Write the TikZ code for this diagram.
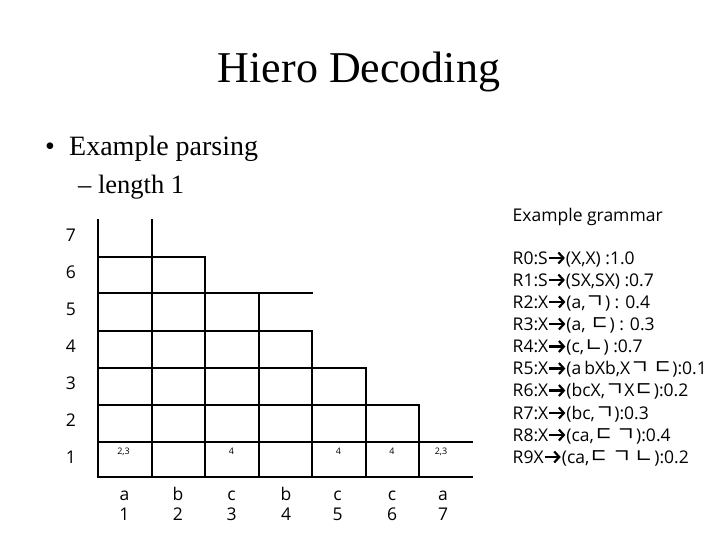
\documentclass[tikz,border=0pt]{standalone}
\usepackage{fontspec}
\usetikzlibrary{arrows.meta}
\setmainfont{Liberation Serif}
\newfontfamily\gsans{Open Sans}
\newfontfamily\kofont{Noto Sans CJK KR}[Scale=1.2]
\newcommand\rarr{\tikz[baseline={(0pt,0pt)},x=1pt,y=1pt,inner sep=0pt]\draw[line width=2.2pt,-{Straight Barb[length=5pt,width=11pt,line width=2.2pt]}] (0,6) -- (16,6);}
\newcommand\jm[1]{{\kofont #1}}
\begin{document}
\begin{tikzpicture}[x=1pt,y=-1pt,
  gridline/.style={line width=2pt,line cap=rect},
  rowlab/.style={font=\gsans\fontsize{17.5}{17.5}\selectfont,anchor=center,inner sep=0pt},
  botlab/.style={font=\gsans\fontsize{17.5}{17.5}\selectfont,anchor=base,inner sep=0pt},
  celllab/.style={font=\gsans\fontsize{9}{9}\selectfont,anchor=base,inner sep=0pt},
  rule/.style={font=\gsans\fontsize{17.5}{17.5}\selectfont,anchor=base west,inner sep=0pt}]
\useasboundingbox (0,0) rectangle (720,540);
% title and bullets
\node[font=\fontsize{44}{44}\selectfont,anchor=base,inner sep=0pt] (title) at (359,83) {Hiero Decoding};
\node[font=\fontsize{28}{28}\selectfont,anchor=base west,inner sep=0pt] (b1) at (45,156) {•};
\node[font=\fontsize{28}{28}\selectfont,anchor=base west,inner sep=0pt] (l1) at (69,156) {Example parsing};
\node[font=\fontsize{26.5}{26.5}\selectfont,anchor=base west,inner sep=0pt] (l2) at (78,194) {– length 1};
% grid
\def\xa{98}\def\xb{151.5}\def\xc{205}\def\xd{258.5}\def\xe{312}\def\xf{365.5}\def\xg{419}\def\xh{472}
\def\ya{220}\def\yb{256.7}\def\yc{293.3}\def\yd{330.7}\def\ye{368}\def\yf{405}\def\yg{441.7}\def\yh{476.7}
\draw[gridline] (\xa,\ya) -- (\xa,\yh);
\draw[gridline] (\xb,\ya) -- (\xb,\yh);
\draw[gridline] (\xc,\yb) -- (\xc,\yh);
\draw[gridline] (\xd,\yc) -- (\xd,\yh);
\draw[gridline] (\xe,\yd) -- (\xe,\yh);
\draw[gridline] (\xf,\ye) -- (\xf,\yh);
\draw[gridline] (\xg,\yf) -- (\xg,\yh);
\draw[gridline] (\xa,\yb) -- (\xc,\yb);
\draw[gridline] (\xa,\yc) -- (\xe,\yc);
\draw[gridline] (\xa,\yd) -- (\xe,\yd);
\draw[gridline] (\xa,\ye) -- (\xf,\ye);
\draw[gridline] (\xa,\yf) -- (\xg,\yf);
\draw[gridline] (\xa,\yg) -- (\xh,\yg);
\draw[gridline] (\xa,\yh) -- (\xh,\yh);
% row labels
\foreach \n/\y in {7/235,6/272,5/309,4/346,3/383,2/420,1/457}
  \node[rowlab] (row\n) at (71,\y) {\n};
% cell labels
\node[celllab] (c1) at (123.5,454.5) {2,3};
\node[celllab] (c3) at (231.5,454.5) {4};
\node[celllab] (c5) at (338.5,454.5) {4};
\node[celllab] (c6) at (392,454.5) {4};
\node[celllab] (c7) at (441,454.5) {2,3};
% bottom labels
\foreach \i/\w/\x in {1/a/124.5,2/b/178,3/c/231.5,4/b/286,5/c/337.5,6/c/392,7/a/443}{
  \node[botlab] (w\i) at (\x,500) {\w};
  \node[botlab] (n\i) at (\x,520.5) {\i};
}
% grammar
\node[rule] (gt) at (512.5,222) {Example grammar};
\node[rule] (r0) at (512.5,264) {R0:S\rarr(X,X) :1.0};
\node[rule] (r1) at (512.5,286) {R1:S\rarr(SX,SX) :0.7};
\node[rule] (r2) at (512.5,308) {R2:X\rarr(a,\jm{ㄱ}) : 0.4};
\node[rule] (r3) at (512.5,330) {R3:X\rarr(a, \jm{ㄷ}) : 0.3};
\node[rule] (r4) at (512.5,352.5) {R4:X\rarr(c,\jm{ㄴ}) :0.7};
\node[rule] (r5) at (512.5,374.5) {R5:X\rarr(a\,bXb,X\jm{ㄱ\,ㄷ}):0.1};
\node[rule] (r6) at (512.5,396.5) {R6:X\rarr(bcX,\jm{ㄱ}X\jm{ㄷ}):0.2};
\node[rule] (r7) at (512.5,419) {R7:X\rarr(bc,\jm{ㄱ}):0.3};
\node[rule] (r8) at (512.5,441) {R8:X\rarr(ca,\jm{ㄷ\,ㄱ}):0.4};
\node[rule] (r9) at (512.5,463) {R9X\rarr(ca,\jm{ㄷ\,ㄱ\,ㄴ}):0.2};
\end{tikzpicture}
\end{document}
